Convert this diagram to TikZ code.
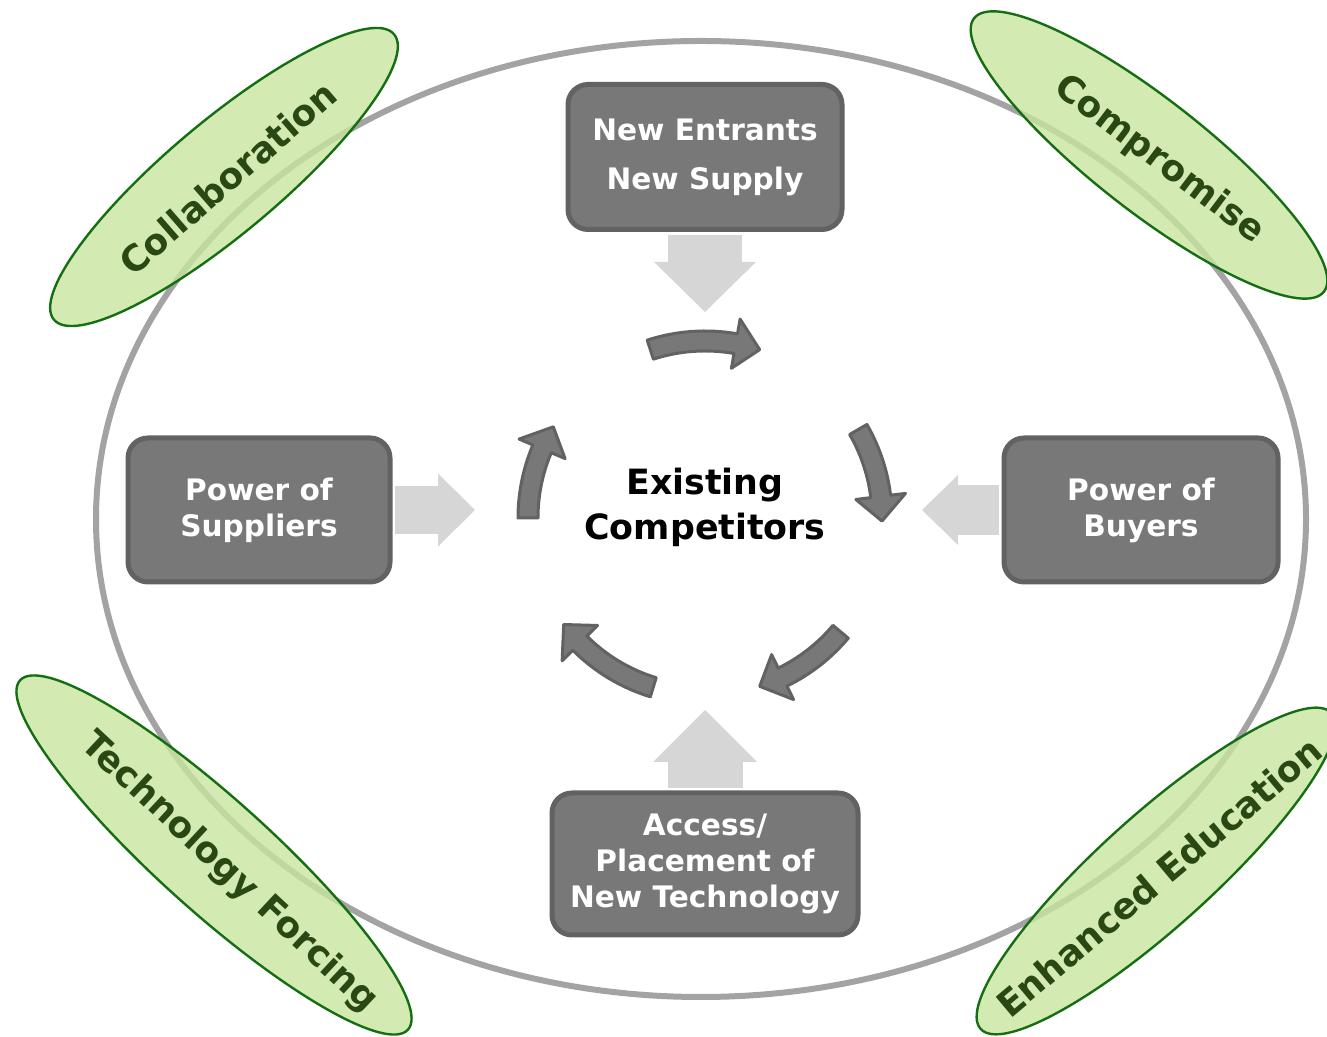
\documentclass[tikz,border=0pt]{standalone}
\usepackage{fontspec}
\setmainfont{DejaVu Sans}
\usepackage{tikz}
\usetikzlibrary{arrows.meta}
\definecolor{ringgray}{RGB}{163,163,163}
\definecolor{boxgray}{RGB}{120,120,120}
\definecolor{boxedge}{RGB}{98,98,98}
\definecolor{pushgray}{RGB}{214,214,214}
\definecolor{leafgreen}{RGB}{200,230,160}
\definecolor{leafedge}{RGB}{22,110,18}
\definecolor{leafink}{RGB}{42,72,20}

\begin{document}
\begin{tikzpicture}[x=0.5pt, y=0.5pt,
  force/.style={draw=boxedge, fill=boxgray, line width=2.5pt, rounded corners=10pt,
    text=white, align=center, inner sep=0pt, font=\fontsize{14.8}{18}\selectfont\bfseries},
  leaf/.style={draw=leafedge, fill=leafgreen, fill opacity=0.8, line width=1.2pt},
  leaflabel/.style={text=leafink, font=\fontsize{18}{22}\selectfont\bfseries},
  push/.style={draw=pushgray, shorten <=1.3pt},
  turn/.style={fill=boxgray, draw=boxedge, line width=1.5pt, line join=round}]
  \useasboundingbox (0,0) rectangle (1327,1037);

  \draw[ringgray, line width=3pt] (701,518) ellipse[x radius=605, y radius=478];

  \filldraw[leaf, rotate around={40:(224,860)}] (224,860) ellipse[x radius=222, y radius=56];
  \node[leaflabel, rotate=41] (collab) at (228,859) {Collaboration};
  \filldraw[leaf, rotate around={-38:(1149,882)}] (1149,882) ellipse[x radius=222, y radius=56];
  \node[leaflabel, rotate=-37] (compromise) at (1159,877) {Compromise};
  \filldraw[leaf, rotate around={-42:(214,182)}] (214,182) ellipse[x radius=261, y radius=56];
  \node[leaflabel, rotate=-43] (forcing) at (229,164) {Technology Forcing};
  \filldraw[leaf, rotate around={42:(1156,166)}] (1156,166) ellipse[x radius=236, y radius=56];
  \node[leaflabel, rotate=40] (education) at (1159,160) {Enhanced Education};

  \node[force, minimum width=137pt, minimum height=72.5pt] (entrants) at (705,880) {New Entrants\\[6.5pt]New Supply};
  \node[force, minimum width=131pt, minimum height=72pt] (suppliers) at (259,527) {Power of\\Suppliers};
  \node[force, minimum width=137pt, minimum height=72pt] (buyers) at (1141,527) {Power of\\Buyers};
  \node[force, minimum width=153pt, minimum height=71pt] (access) at (705,173) {Access/\\Placement of\\New Technology};

  \node[align=center, font=\fontsize{17.4}{22.5}\selectfont\bfseries] (rivals) at (705,530) {Existing\\Competitors};
  \coordinate (hub) at (705,519);

  \coordinate (fromtop) at (705,725);
  \coordinate (frombottom) at (705,327);
  \coordinate (fromleft) at (475,527);
  \coordinate (fromright) at (922,527);
  \draw[push, line width=37pt, -{Triangle[length=25pt, width=51pt, line width=0pt]}] (entrants.south) -- (fromtop);
  \draw[push, line width=37.5pt, -{Triangle[length=26pt, width=52pt, line width=0pt]}] (access.north) -- (frombottom);
  \draw[push, line width=24pt, -{Triangle[length=18.5pt, width=36.5pt, line width=0pt]}] (suppliers.east) -- (fromleft);
  \draw[push, line width=25pt, -{Triangle[length=18pt, width=35pt, line width=0pt]}] (buyers.west) -- (fromright);

  \foreach \a/\b in {108/72, 30/-1, -40/-72, -107/-143, 180/149}
    \filldraw[turn] ([shift={(\a:167)}]hub) arc[start angle=\a, end angle=\b+8, radius=167]
      -- ([shift={(\b+8:152)}]hub) -- ([shift={(\b:177)}]hub) -- ([shift={(\b+8:202)}]hub)
      -- ([shift={(\b+8:187)}]hub) arc[start angle=\b+8, end angle=\a, radius=187] -- cycle;
\end{tikzpicture}
\end{document}
